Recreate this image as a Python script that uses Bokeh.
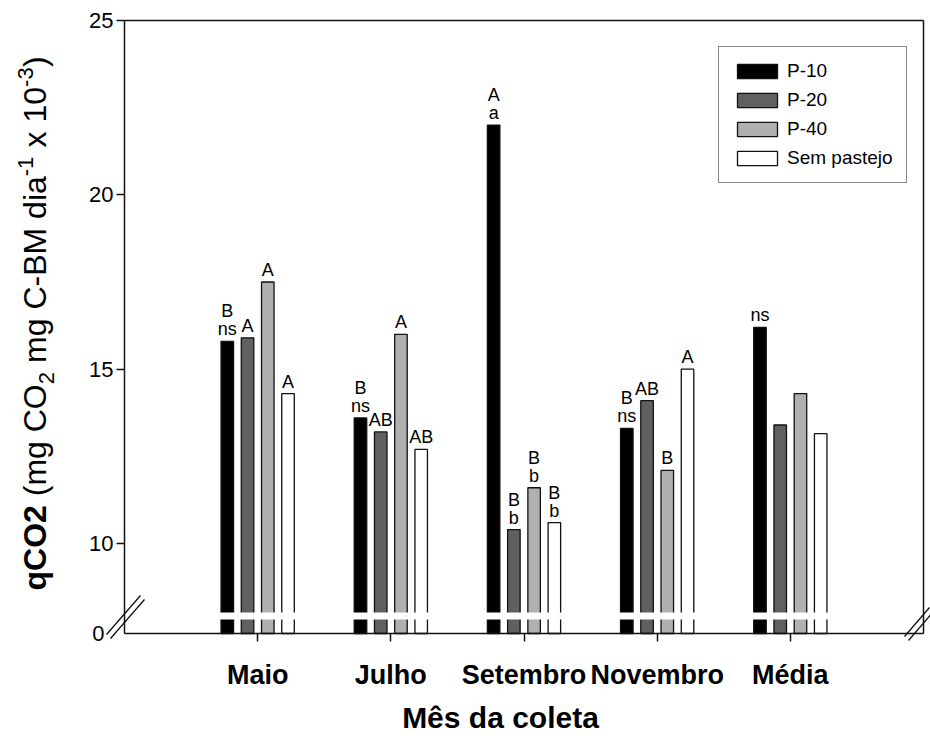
import math
from bokeh.plotting import figure
from bokeh.models import (ColumnDataSource, FixedTicker, Label, Legend, LegendItem, Range1d)
from bokeh.core.properties import value
from bokeh.embed import file_html
from bokeh.resources import INLINE

# ---------------- data ----------------
months = ["Maio", "Julho", "Setembro", "Novembro", "Média"]
series_names = ["P-10", "P-20", "P-40", "Sem pastejo"]
p10 = [15.8, 13.6, 22.0, 13.3, 16.2]
p20 = [15.9, 13.2, 10.4, 14.1, 13.4]
p40 = [17.5, 16.0, 11.6, 12.1, 14.3]
sem = [14.3, 12.7, 10.6, 15.0, 13.15]
p10_caps = ["B", "B", "A", "B", ""]
p10_low = ["ns", "ns", "a", "ns", "ns"]
p20_caps = ["A", "AB", "B", "AB", ""]
p20_low = ["", "", "b", "", ""]
p40_caps = ["A", "A", "B", "B", ""]
p40_low = ["", "", "b", "", ""]
sem_caps = ["A", "AB", "B", "A", ""]
sem_low = ["", "", "b", "", ""]
y_ticks = [10, 15, 20, 25]
y_floor_label = "0"
x_title = "Mês da coleta"

# ---------------- layout / style ----------------
W, H = 930, 736
AX_L, AX_R, AX_T, AX_B = 124, 923, 20, 633   # drawn plot box (canvas px); frame = whole canvas
PX_X = (AX_R - AX_L) / 6.0                   # px per group
Y0, YTOP = 7.42, 25.0
PX_Y = (AX_B - AX_T) / (YTOP - Y0)
XL = -1.0 - AX_L / PX_X
XR = 5.0 + (W - AX_R) / PX_X
YT = YTOP + AX_T / PX_Y
YB = Y0 - (H - AX_B) / PX_Y
FONT = "Liberation Sans"
INK = "#111111"
colors = ["#000000", "#606060", "#b0b0b0", "#ffffff"]
offsets = [-0.228, -0.076, 0.076, 0.228]
bar_w = 0.094


def sx(px):
    return XL + px / PX_X


def sy(py):
    return Y0 + (AX_B - py) / PX_Y


p = figure(width=W, height=H, output_backend="svg", toolbar_location=None,
           x_range=Range1d(XL, XR), y_range=Range1d(YB, YT),
           min_border_left=0, min_border_top=0, min_border_right=0, min_border_bottom=0)
p.grid.visible = False
p.outline_line_color = None
p.background_fill_color = "white"
p.border_fill_color = "white"

# x axis (drawn at the broken-axis floor)
xa = p.xaxis[0]
xa.fixed_location = Y0
xa.bounds = (-1.0, 5.0)
xa.ticker = FixedTicker(ticks=list(range(len(months))))
xa.major_label_overrides = {i: m for i, m in enumerate(months)}
xa.major_label_text_font = FONT
xa.major_label_text_font_style = "bold"
xa.major_label_text_font_size = "27px"
xa.major_label_text_color = "black"
xa.major_label_standoff = 18
xa.major_tick_out = 8
xa.major_tick_in = 0
xa.minor_tick_out = 0
xa.minor_tick_in = 0
xa.axis_line_width = 1.5
xa.axis_line_color = INK
xa.major_tick_line_width = 1.5
xa.major_tick_line_color = INK

# x title
p.add_layout(Label(x=sx(500), y=sy(717), text=x_title, text_font=FONT,
                   text_font_size="30px", text_font_style="bold", text_align="center",
                   text_baseline="middle", text_color="black"))

# y axis (drawn at x = -1 inside the widened frame)
ya = p.yaxis[0]
ya.fixed_location = -1.0
ya.bounds = (Y0, YTOP)
ya.ticker = FixedTicker(ticks=y_ticks)
ya.major_label_text_font = FONT
ya.major_label_text_font_size = "22px"
ya.major_label_text_color = "black"
ya.major_label_standoff = 3
ya.major_tick_out = 8
ya.major_tick_in = 0
ya.minor_tick_out = 0
ya.minor_tick_in = 0
ya.axis_line_width = 1.5
ya.axis_line_color = INK
ya.major_tick_line_width = 1.5
ya.major_tick_line_color = INK

# label of the broken axis floor
p.add_layout(Label(x=sx(104), y=Y0, text=y_floor_label, text_font=FONT,
                   text_font_size="22px", text_align="right", text_baseline="middle",
                   text_color="black"))

# top and right sides of the box
p.segment(x0=[-1.0, 5.0], y0=[YTOP, Y0], x1=[5.0, 5.0], y1=[YTOP, YTOP],
          line_color=INK, line_width=1.5)

# bars
all_vals = [p10, p20, p40, sem]
all_caps = [p10_caps, p20_caps, p40_caps, sem_caps]
all_low = [p10_low, p20_low, p40_low, sem_low]
renderers = []
gap_lo, gap_hi = sy(619), sy(612)
for k, vals in enumerate(all_vals):
    xs = [i + offsets[k] for i in range(len(months))]
    line1 = [lo if lo else c for c, lo in zip(all_caps[k], all_low[k])]
    line2 = [c if lo else "" for c, lo in zip(all_caps[k], all_low[k])]
    src = ColumnDataSource(dict(x=xs, top=vals, l1=line1, l2=line2))
    r = p.vbar(x="x", top="top", bottom=Y0, width=bar_w, source=src,
               fill_color=colors[k], line_color=INK, line_width=1.3)
    renderers.append(r)
    # axis-break gap through the bars
    p.vbar(x="x", top=gap_hi, bottom=gap_lo, width=bar_w * 1.25, source=src,
           fill_color="white", line_color=None)
    p.text(x="x", y="top", text="l1", source=src, y_offset=-2,
           text_align="center", text_baseline="bottom",
           text_font=value(FONT), text_font_size=value("18px"), text_color="black")
    p.text(x="x", y="top", text="l2", source=src, y_offset=-20,
           text_align="center", text_baseline="bottom",
           text_font=value(FONT), text_font_size=value("18px"), text_color="black")

# legend (location measured from the frame's bottom-left = canvas bottom-left)
legend = Legend(items=[LegendItem(label=n, renderers=[r]) for n, r in zip(series_names, renderers)],
                location=(718, H - 183), padding=13, spacing=7, glyph_width=50, glyph_height=18,
                label_height=20, label_standoff=5, label_text_font=FONT,
                label_text_font_size="19px", label_text_color="black",
                border_line_color=INK, border_line_width=1.3,
                background_fill_color="white", background_fill_alpha=1.0, margin=0)
p.add_layout(legend)

# axis-break marks (double slashes at both ends of the bottom axis)
bx0 = [106, 110, 904, 908]
by0 = [634, 638, 636, 640]
bx1 = [140, 144, 929, 933]
by1 = [595, 599, 607, 611]
p.segment(x0=[sx(v) for v in bx0], y0=[sy(v) for v in by0],
          x1=[sx(v) for v in bx1], y1=[sy(v) for v in by1],
          line_color=INK, line_width=1.3)

# y title composed of rich-text segments (rotated); anchors are text-box centres
f = 32
baseline = 46        # canvas x of the main text baseline
cur = 590            # canvas y where the title starts (bottom)
MID = 0.3465         # box centre offset from baseline, in em
# (text, size factor, style, baseline shift in em (+ = down), leading space em, width em)
segments = [
    ("qCO2", 1.0, "bold", 0.0, 0.0, 2.667),
    ("(mg CO", 1.0, "normal", 0.0, 0.278, 3.5),
    ("2", 0.7, "normal", 0.25, 0.0, 0.389),
    ("mg C-BM dia", 1.0, "normal", 0.0, 0.278, 5.834),
    ("-1", 0.7, "normal", -0.42, 0.0, 0.622),
    ("x 10", 1.0, "normal", 0.0, 0.278, 1.89),
    ("-3", 0.7, "normal", -0.42, 0.0, 0.622),
    (")", 1.0, "normal", 0.0, 0.0, 0.333),
]
for txt, sf, style, shift, lead, wem in segments:
    size = f * sf
    cur -= lead * f
    ax = baseline + shift * f - MID * size
    p.add_layout(Label(x=sx(ax), y=sy(cur), text=txt, angle=math.pi / 2,
                       text_font=FONT, text_font_size=f"{size:.0f}px",
                       text_font_style=style, text_align="left",
                       text_baseline="middle", text_color="black"))
    cur -= wem * f

open("out.html", "w").write(file_html(p, INLINE))
